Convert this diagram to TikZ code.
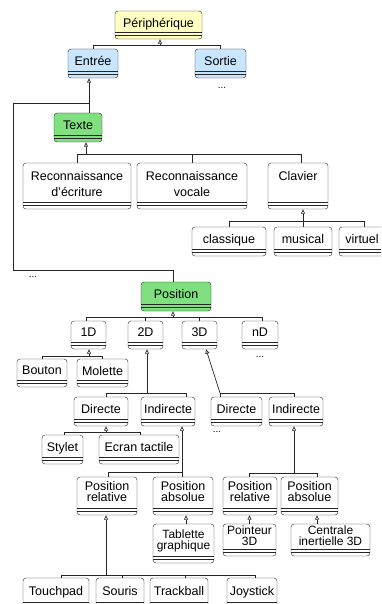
\documentclass[tikz,border=0pt]{standalone}
\usepackage{fontspec}
\setmainfont{Liberation Sans}
\usetikzlibrary{arrows.meta, calc}
\definecolor{periphyellow}{RGB}{255,255,192}
\definecolor{ioblue}{RGB}{200,230,255}
\definecolor{kindgreen}{RGB}{128,224,128}
\tikzset{
    my-class/.style={
        draw=black!85, fill=white, rounded corners=3pt, align=center,
        inner xsep=1pt, inner ysep=0pt, text depth=5pt,
        font=\fontsize{12.5}{16}\selectfont,
        path picture={
            \draw[black!85, line width=0.5pt]
                ([yshift=6.5pt]path picture bounding box.south west) --
                ([yshift=6.5pt]path picture bounding box.south east)
                ([yshift=4pt]path picture bounding box.south west) --
                ([yshift=4pt]path picture bounding box.south east);
        }
    },
    my-size/.style 2 args={minimum width=#1, minimum height=#2},
    my-tight/.style={font=\fontsize{12}{11}\selectfont, text depth=8pt},
    my-snug/.style={font=\fontsize{12.5}{11}\selectfont, text depth=9pt},
    my-link/.style={draw=black!85, line width=0.7pt},
    my-inherit/.style={my-link, -{Triangle[open, length=4.5pt, width=4pt]}},
    my-dots/.style={font=\fontsize{10}{12}\selectfont, inner sep=0pt},
}

\begin{document}
\begin{tikzpicture}[x=1pt, y=-1pt]

        \clip (0,0) rectangle (381,604);

        % ROOT
        \node[my-class, my-size={87pt}{28pt}, fill=periphyellow] (PERIPH) at (158.5,25) {Périphérique};

        % INPUT / OUTPUT
        \node[my-class, my-size={50pt}{29pt}, fill=ioblue] (ENTREE) at (93,63.5)    {Entrée};
        \node[my-class, my-size={51pt}{29pt}, fill=ioblue] (SORTIE) at (220.5,63.5) {Sortie};
        \node[my-dots]                                     (SORTIEDOTS) at (222,88) {...};

        % TEXT INPUT
        \node[my-class, my-size={48pt}{29pt}, fill=kindgreen] (TEXTE) at (78,127.5) {Texte};
        \node[my-class, my-size={108pt}{46pt}] (RECECR)  at (77,186)  {Reconnaissance\\d’écriture};
        \node[my-class, my-size={110pt}{46pt}] (RECVOC)  at (192,186) {Reconnaissance\\vocale};
        \node[my-class, my-size={60pt}{46pt}, text depth=21pt] (CLAVIER) at (298,186) {Clavier};
        \node[my-class, my-size={74pt}{29pt}]  (CLASSIQUE) at (229,241.5) {classique};
        \node[my-class, my-size={58pt}{29pt}]  (MUSICAL)   at (303,241.5) {musical};
        \node[my-class, my-size={46pt}{29pt}]  (VIRTUEL)   at (362,241.5) {virtuel};
        \node[my-dots]                         (TEXTEDOTS) at (33,277)    {...};

        % POSITION INPUT
        \node[my-class, my-size={70pt}{29pt}, fill=kindgreen] (POSITION) at (176,296.5) {Position};
        \node[my-class, my-size={35pt}{28pt}] (D1) at (88.5,335)  {1D};
        \node[my-class, my-size={35pt}{28pt}] (D2) at (145.5,335) {2D};
        \node[my-class, my-size={35pt}{28pt}] (D3) at (199.5,335) {3D};
        \node[my-class, my-size={36pt}{28pt}] (DN) at (260,335)   {nD};
        \node[my-dots]                        (DNDOTS) at (260,357) {...};

        % 1D
        \node[my-class, my-size={50pt}{28pt}] (BOUTON)  at (42,373)    {Bouton};
        \node[my-class, my-size={51pt}{28pt}] (MOLETTE) at (102.5,373) {Molette};

        % 2D
        \node[my-class, my-size={54pt}{29pt}] (DIR2)    at (101,411.5) {Directe};
        \node[my-class, my-size={54pt}{29pt}] (IND2)    at (168,411.5) {Indirecte};
        \node[my-class, my-size={41pt}{29pt}] (STYLET)  at (62.5,449.5) {Stylet};
        \node[my-class, my-size={80pt}{29pt}] (ECRAN)   at (139,449.5)  {Ecran tactile};
        \node[my-class, my-size={60pt}{38pt}, my-snug] (POSREL2) at (107,496) {Position\\relative};
        \node[my-class, my-size={60pt}{38pt}, my-snug] (POSABS2) at (183,496) {Position\\absolue};
        \node[my-class, my-size={61pt}{39pt}, my-tight] (TABLETTE) at (183.5,543.5) {Tablette\\graphique};
        \node[my-class, my-size={66pt}{31pt}] (TOUCHPAD)  at (56,593.5)  {Touchpad};
        \node[my-class, my-size={48pt}{31pt}] (SOURIS)    at (120,593.5) {Souris};
        \node[my-class, my-size={58pt}{31pt}] (TRACKBALL) at (179,593.5) {Trackball};
        \node[my-class, my-size={50pt}{31pt}] (JOYSTICK)  at (252,593.5) {Joystick};

        % 3D
        \node[my-class, my-size={51pt}{29pt}] (DIR3) at (236.5,411.5) {Directe};
        \node[my-class, my-size={54pt}{29pt}] (IND3) at (296,411.5)   {Indirecte};
        \node[my-dots]                        (DIR3DOTS) at (217,432) {...};
        \node[my-class, my-size={54pt}{38pt}, my-snug] (POSREL3) at (250,496)   {Position\\relative};
        \node[my-class, my-size={57pt}{38pt}, my-snug] (POSABS3) at (309.5,496) {Position\\absolue};
        \node[my-class, my-size={53pt}{32pt}, my-tight] (POINTEUR) at (249.5,540) {Pointeur\\3D};
        \node[my-class, my-size={79pt}{32pt}, my-tight] (CENTRALE) at (330.5,540) {Centrale\\inertielle 3D};

        % BUS POINTS
        \coordinate (PERIPHBUS)  at (160,45);
        \coordinate (ENTREEBUS)  at (89,103);
        \coordinate (LOOPUP)     at (13,103);
        \coordinate (LOOPDOWN)   at (13,270);
        \coordinate (TEXTEBUS)   at (86,154);
        \coordinate (CLAVIERBUS) at (303,221);
        \coordinate (POSBUS)     at (173,317);
        \coordinate (D1BUS)      at (89,356);
        \coordinate (D2BUS)      at (147,393);
        \coordinate (D3BUS)      at (220,393);
        \coordinate (DIR2BUS)    at (106,432);
        \coordinate (IND2BUS)    at (182,472);
        \coordinate (IND3BUS)    at (294,473);
        \coordinate (POSREL2BUS) at (106,575);

        % PERIPHERIQUE CONNECTIONS
        \draw[my-inherit] (PERIPHBUS) -- (PERIPHBUS |- PERIPH.south);
        \draw[my-link] (ENTREE.north) |- (PERIPHBUS);
        \draw[my-link] (SORTIE.north) |- (PERIPHBUS);

        % ENTREE CONNECTIONS
        \draw[my-inherit] (ENTREEBUS) -- (ENTREEBUS |- ENTREE.south);
        \draw[my-link] (ENTREEBUS |- TEXTE.north) -- (ENTREEBUS);
        \draw[my-link] ([xshift=-3pt]POSITION.north) |- (LOOPDOWN) -- (LOOPUP) -- (ENTREEBUS);

        % TEXTE CONNECTIONS
        \draw[my-inherit] (TEXTEBUS) -- (TEXTEBUS |- TEXTE.south);
        \draw[my-link] (RECECR.north) |- (TEXTEBUS);
        \draw[my-link] (RECVOC.north) |- (TEXTEBUS);
        \draw[my-link] ([xshift=3pt]CLAVIER.north) |- (TEXTEBUS);

        % CLAVIER CONNECTIONS
        \draw[my-inherit] (CLAVIERBUS) -- (CLAVIERBUS |- CLAVIER.south);
        \draw[my-link] (CLASSIQUE.north) |- (CLAVIERBUS);
        \draw[my-link] (MUSICAL.north) |- (CLAVIERBUS);
        \draw[my-link] ([xshift=2pt]VIRTUEL.north) |- (CLAVIERBUS);

        % POSITION CONNECTIONS
        \draw[my-inherit] (POSBUS) -- (POSBUS |- POSITION.south);
        \draw[my-link] ([xshift=-2.5pt]D1.north) |- (POSBUS);
        \draw[my-link] (D2.north) |- (POSBUS);
        \draw[my-link] (D3.north) |- (POSBUS);
        \draw[my-link] ([xshift=2pt]DN.north) |- (POSBUS);

        % 1D CONNECTIONS
        \draw[my-inherit] (D1BUS) -- (D1BUS |- D1.south);
        \draw[my-link] (BOUTON.north) |- (D1BUS);
        \draw[my-link] (MOLETTE.north) |- (D1BUS);

        % 2D CONNECTIONS
        \draw[my-inherit] (D2BUS) -- (D2BUS |- D2.south);
        \draw[my-link] ([xshift=5pt]DIR2.north) |- (D2BUS);
        \draw[my-link] ([xshift=18pt]IND2.north) |- (D2BUS);
        \draw[my-inherit] (DIR2BUS) -- (DIR2BUS |- DIR2.south);
        \draw[my-link] ([xshift=1.5pt]STYLET.north) |- (DIR2BUS);
        \draw[my-link] ([xshift=1pt]ECRAN.north) |- (DIR2BUS);
        \draw[my-inherit] (IND2BUS) -- (IND2BUS |- IND2.south);
        \draw[my-link] ([xshift=1pt]POSREL2.north) |- (IND2BUS);
        \draw[my-link] (IND2BUS |- POSABS2.north) -- (IND2BUS);
        \draw[my-inherit] ([xshift=2.5pt]TABLETTE.north) -- ([xshift=2.5pt]TABLETTE.north |- POSABS2.south);
        \draw[my-inherit] (POSREL2BUS) -- (POSREL2BUS |- POSREL2.south);
        \draw[my-link] ([xshift=5pt]TOUCHPAD.north) |- (POSREL2BUS);
        \draw[my-link] ([xshift=2pt]SOURIS.north) |- (POSREL2BUS);
        \draw[my-link] ([xshift=6pt]TRACKBALL.north) |- (POSREL2BUS);
        \draw[my-link] ([xshift=3pt]JOYSTICK.north) |- (POSREL2BUS);

        % 3D CONNECTIONS
        \draw[my-inherit] (D3BUS) -- ([xshift=6.5pt]D3.south);
        \draw[my-link] (D3BUS |- DIR3.north) -- (D3BUS);
        \draw[my-link] ([xshift=-2pt]IND3.north) |- (D3BUS);
        \draw[my-inherit] (IND3BUS) -- (IND3BUS |- IND3.south);
        \draw[my-link] ([xshift=-1pt]POSREL3.north) |- (IND3BUS);
        \draw[my-link] ([xshift=7.5pt]POSABS3.north) |- (IND3BUS);
        \draw[my-inherit] (POINTEUR.north) -- (POINTEUR.north |- POSREL3.south);
        \draw[my-inherit] ([xshift=-13.5pt]CENTRALE.north) -- ([xshift=-13.5pt]CENTRALE.north |- POSABS3.south);

    \end{tikzpicture}
\end{document}
